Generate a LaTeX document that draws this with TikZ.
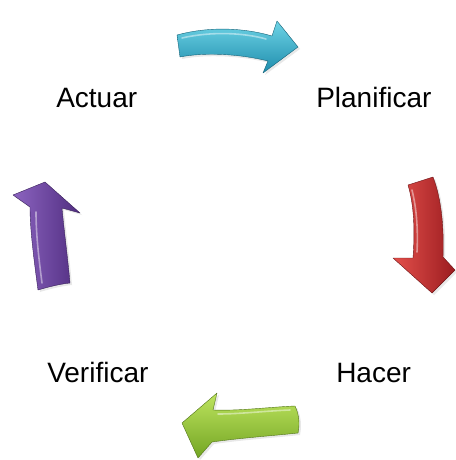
\documentclass[tikz,border=0pt]{standalone}
\usepackage{fontspec}
\setmainfont{Liberation Sans}
\usetikzlibrary{shadows}
\definecolor{cyanL}{RGB}{110,212,230}
\definecolor{cyanD}{RGB}{30,140,172}
\definecolor{redL}{RGB}{228,80,75}
\definecolor{redD}{RGB}{155,28,32}
\definecolor{greenL}{RGB}{190,228,95}
\definecolor{greenD}{RGB}{115,165,35}
\definecolor{purpL}{RGB}{140,100,192}
\definecolor{purpD}{RGB}{80,45,128}
\tikzset{
  lbl/.style={anchor=base west, inner sep=0pt, font=\fontsize{21}{25}\selectfont, text=black},
  arr/.style={draw=#1!70!black, line width=0.3pt, line join=round,
              drop shadow={shadow xshift=1.5pt, shadow yshift=-1.5pt, opacity=0.18}},
  gloss/.style={draw=white, opacity=0.45, line width=1.2pt, line cap=round}
}
\begin{document}
\begin{tikzpicture}[x=0.75pt,y=-0.75pt]
\useasboundingbox (0,0) rectangle (455,460);
% cyan (top)
\shade[arr=cyanD, top color=cyanL, bottom color=cyanD]
  (177,35) .. controls (210,26) and (245,28) .. (272,36)
  -- (277,21) -- (298,47) -- (263,73) -- (268,61)
  .. controls (240,54) and (205,52) .. (180,57) -- cycle;
\draw[gloss] (182,38) .. controls (212,31) and (245,33) .. (266,39);
% red (right)
\shade[arr=redD, shading angle=90, left color=redL, right color=redD]
  (408,185) -- (433,177)
  .. controls (442,200) and (444,230) .. (443,257)
  -- (455,270) -- (432,293) -- (393,258) -- (413,258)
  .. controls (415,230) and (414,205) .. (408,185) -- cycle;
\draw[gloss] (412,190) .. controls (417,210) and (418,232) .. (417,252);
% green (bottom)
\shade[arr=greenD, top color=greenL, bottom color=greenD]
  (295,406) .. controls (270,407) and (240,411) .. (213,410)
  -- (217,393) -- (182,423) -- (198,458) -- (212,442)
  .. controls (240,438) and (270,436) .. (298,433)
  .. controls (300,424) and (299,414) .. (295,406) -- cycle;
\draw[gloss] (290,410) .. controls (265,411) and (240,414) .. (218,414);
% purple (left)
\shade[arr=purpD, shading angle=90, left color=purpL, right color=purpD]
  (38,290) .. controls (34,260) and (30,230) .. (30,207)
  -- (13,195) -- (45,182) -- (80,213) -- (62,208)
  .. controls (64,230) and (68,260) .. (70,283)
  .. controls (60,284) and (48,287) .. (38,290) -- cycle;
\draw[gloss] (36,212) .. controls (36,235) and (39,260) .. (42,283);
% labels
\node[lbl] (actuar) at (56,108) {Actuar};
\node[lbl] (planificar) at (316,108) {Planificar};
\node[lbl] (verificar) at (47,382) {Verificar};
\node[lbl] (hacer) at (336,382) {Hacer};
\end{tikzpicture}
\end{document}
